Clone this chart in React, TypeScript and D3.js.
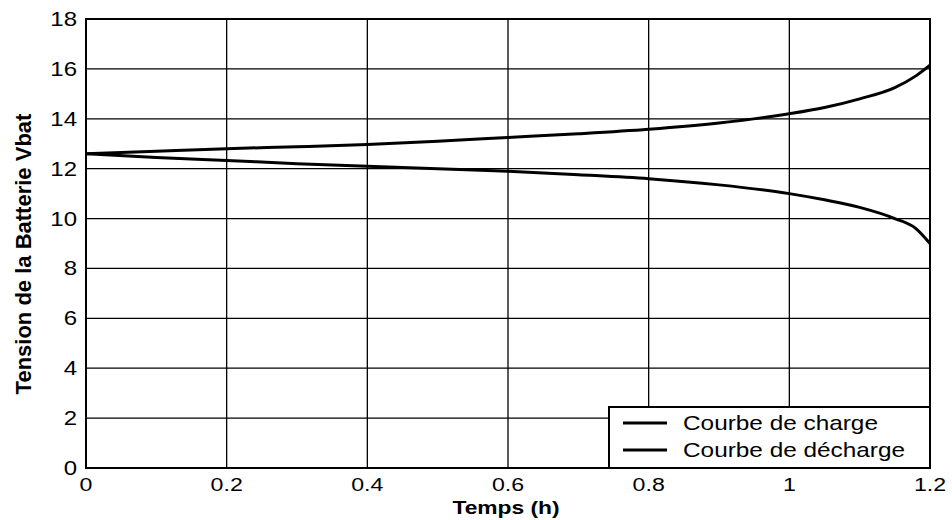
import React, { useEffect, useRef } from 'react';
import * as d3 from 'd3';

const temps = [0, 0.1, 0.2, 0.3, 0.4, 0.5, 0.6, 0.7, 0.8, 0.9, 1.0, 1.05, 1.1, 1.15, 1.18, 1.2];
const charge = [12.6, 12.7, 12.8, 12.88, 12.97, 13.1, 13.25, 13.4, 13.58, 13.83, 14.2, 14.45, 14.8, 15.25, 15.72, 16.15];
const decharge = [12.6, 12.45, 12.33, 12.2, 12.1, 12.0, 11.9, 11.76, 11.6, 11.35, 11.0, 10.75, 10.45, 10.0, 9.6, 9.0];

const xTicks = [0, 0.2, 0.4, 0.6, 0.8, 1, 1.2];
const yTicks = [0, 2, 4, 6, 8, 10, 12, 14, 16, 18];
const legendLabels = ['Courbe de charge', 'Courbe de décharge'];

const W = 952;
const H = 520;
const margin = { top: 19, right: 22, bottom: 52, left: 86 };

export default function App() {
  const svgRef = useRef<SVGSVGElement | null>(null);

  useEffect(() => {
    const svg = d3.select(svgRef.current);
    svg.selectAll('*').remove();

    const innerW = W - margin.left - margin.right;
    const innerH = H - margin.top - margin.bottom;

    const x = d3.scaleLinear().domain([0, 1.2]).range([0, innerW]);
    const y = d3.scaleLinear().domain([0, 18]).range([innerH, 0]);

    const g = svg.append('g').attr('transform', `translate(${margin.left},${margin.top})`);
    const font = 'Liberation Sans, Arial, sans-serif';

    // grid
    g.append('g')
      .selectAll('line')
      .data(xTicks.slice(1, -1))
      .join('line')
      .attr('x1', (d) => x(d)).attr('x2', (d) => x(d))
      .attr('y1', 0).attr('y2', innerH)
      .attr('stroke', '#000').attr('stroke-width', 1.3);
    g.append('g')
      .selectAll('line')
      .data(yTicks.slice(1, -1))
      .join('line')
      .attr('x1', 0).attr('x2', innerW)
      .attr('y1', (d) => y(d)).attr('y2', (d) => y(d))
      .attr('stroke', '#000').attr('stroke-width', 1.3);

    // tick labels (slightly stretched horizontally like the original)
    g.append('g')
      .selectAll('text')
      .data(xTicks)
      .join('text')
      .attr('transform', (d) => `translate(${x(d)},${innerH + 23}) scale(1.22,1)`)
      .attr('text-anchor', 'middle')
      .attr('font-family', font)
      .attr('font-size', 19)
      .text((d) => String(d));
    g.append('g')
      .selectAll('text')
      .data(yTicks)
      .join('text')
      .attr('transform', (d) => `translate(-9,${y(d) + 7}) scale(1.2,1)`)
      .attr('text-anchor', 'end')
      .attr('font-family', font)
      .attr('font-size', 20)
      .text((d) => String(d));

    // axis labels
    g.append('text')
      .attr('transform', `translate(${innerW / 2 - 2},${innerH + 46}) scale(1.2,1)`)
      .attr('text-anchor', 'middle')
      .attr('font-family', font)
      .attr('font-weight', 'bold')
      .attr('font-size', 19)
      .text('Temps (h)');
    g.append('text')
      .attr('transform', `translate(${31 - margin.left},${254 - margin.top}) rotate(-90)`)
      .attr('text-anchor', 'middle')
      .attr('font-family', font)
      .attr('font-weight', 'bold')
      .attr('font-size', 22)
      .text('Tension de la Batterie Vbat');

    // curves
    const line = d3.line<number>()
      .x((_, i) => x(temps[i]))
      .y((d) => y(d))
      .curve(d3.curveMonotoneX);
    [charge, decharge].forEach((s) => {
      g.append('path')
        .attr('d', line(s))
        .attr('fill', 'none')
        .attr('stroke', '#000')
        .attr('stroke-width', 3);
    });

    // frame
    g.append('rect')
      .attr('x', 0).attr('y', 0)
      .attr('width', innerW).attr('height', innerH)
      .attr('fill', 'none')
      .attr('stroke', '#000')
      .attr('stroke-width', 2);

    // legend
    const lg = g.append('g').attr('transform', `translate(${innerW - 321},${innerH - 61})`);
    lg.append('rect')
      .attr('width', 321).attr('height', 61)
      .attr('fill', '#fff')
      .attr('stroke', '#000')
      .attr('stroke-width', 2);
    legendLabels.forEach((lab, i) => {
      const cy = 16 + i * 27;
      lg.append('line')
        .attr('x1', 14).attr('x2', 58)
        .attr('y1', cy).attr('y2', cy)
        .attr('stroke', '#000').attr('stroke-width', 3);
      lg.append('text')
        .attr('transform', `translate(74,${cy + 7}) scale(1.16,1)`)
        .attr('font-family', font)
        .attr('font-size', 21)
        .text(lab);
    });
  }, []);

  return (
    <div style={{ position: 'absolute', left: 0, top: 0 }}>
      <svg ref={svgRef} width={W} height={H} style={{ display: 'block', background: '#fff' }} />
    </div>
  );
}
